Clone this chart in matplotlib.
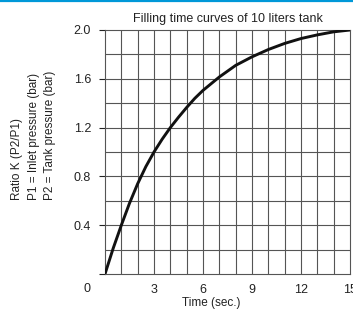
import matplotlib
matplotlib.use('Agg')
import matplotlib.pyplot as plt
from matplotlib.lines import Line2D
import numpy as np

# curve values
time_sec = [0, 0.5, 1, 1.5, 2, 2.5, 3, 3.5, 4, 4.5, 5, 5.5, 6, 7, 8, 9, 10, 11, 12, 13, 14, 15]
ratio_k = [0, 0.21, 0.40, 0.58, 0.74, 0.88, 1.00, 1.105, 1.20, 1.285, 1.365, 1.44,
           1.505, 1.615, 1.71, 1.78, 1.84, 1.89, 1.93, 1.96, 1.985, 2.0]

x_labels = [3, 6, 9, 12, 15]
y_labels = [0.4, 0.8, 1.2, 1.6, 2.0]

title = "Filling time curves of 10 liters tank"
ylabel = "Ratio K (P2/P1)\nP1 = Inlet pressure (bar)\nP2 = Tank pressure (bar)"
xlabel = "Time (sec.)"

plt.rcParams['font.family'] = ['Liberation Sans', 'DejaVu Sans']

fig = plt.figure(figsize=(3.53, 3.09), dpi=100)
ax = fig.add_axes([105/353, 35/309, 245/353, 244/309])

grid_col = '#555555'
for t in range(1, 15):
    ax.axvline(t, color=grid_col, lw=0.8, zorder=1)
for v in np.arange(0.2, 2.0, 0.2):
    ax.axhline(v, color=grid_col, lw=0.8, zorder=1)

ax.plot(time_sec, ratio_k, color='#111111', lw=2.1, solid_capstyle='round',
        solid_joinstyle='round', zorder=3)

ax.set_xlim(0, 15)
ax.set_ylim(0, 2.0)
ax.set_xticks(x_labels)
ax.set_xticklabels([str(v) for v in x_labels])
ax.set_yticks([0] + y_labels)
ax.set_yticklabels([''] + ['%.1f' % v for v in y_labels])
ax.tick_params(axis='x', length=0, pad=7, labelsize=9, colors='#222222')
ax.tick_params(axis='y', length=4, width=0.8, pad=6, labelsize=9, colors='#222222')
for s in ax.spines.values():
    s.set_color(grid_col)
    s.set_linewidth(0.8)

ax.text(-0.06, -0.035, "0", transform=ax.transAxes, ha='right', va='top',
        fontsize=9, color='#222222')

ax.set_title(title, fontsize=9, pad=6, color='#222222')
ax.set_xlabel(xlabel, fontsize=8.5, color='#222222')
ax.xaxis.set_label_coords(0.433, -0.095)

fig.text(34/353, 109/309, ylabel, rotation=90, ha='center', va='bottom',
         multialignment='left', linespacing=1.5, fontsize=8.5, color='#222222')

# blue rule along the top edge
fig.add_artist(Line2D([0, 1], [1 - 1/309, 1 - 1/309], transform=fig.transFigure,
                      color='#0098d8', lw=1.6))

fig.savefig('out.png', dpi=100)
